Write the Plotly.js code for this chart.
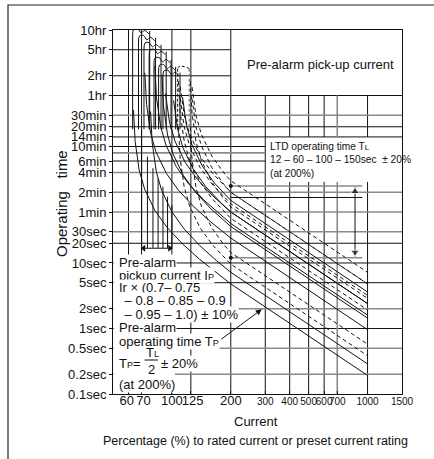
<!DOCTYPE html>
<html><head><meta charset="utf-8">
<script src="https://cdn.plot.ly/plotly-3.0.1.min.js"></script>
<style>html,body{margin:0;padding:0;background:#fff}</style>
</head><body><div id="chart" style="width:434px;height:459px"></div>
<script>
// ---- axes ----
const xTicks = [60,70,100,125,200,300,400,500,600,700,1000,1500];
const xTickText = ["60","70","100","125","200","300","400","500","600","700","1000","1500"];
const yTicks = [36000,18000,7200,3600,1800,1200,840,600,360,240,120,60,30,20,10,5,2,1,0.5,0.2,0.1];
const yTickText = ["10hr","5hr","2hr","1hr","30min","20min","14min","10min","6min","4min","2min","1min","30sec","20sec","10sec","5sec","2sec","1sec","0.5sec","0.2sec","0.1sec"];

// ---- pre-alarm operating time curves (solid), current % / time s ----
const tp12LoI = [63.6,64.9,68.0,72.5,81.9,94.5,113.4,138.6,200,1000];
const tp12LoT = [2168,715,262,135,63.1,34.9,19.5,11.35,4.8,0.192];
const tp12HiI = [77.8,79.3,83.2,88.6,100.1,115.5,138.6,169.4,200,1000];
const tp12HiT = [2059,680,249,128,60.0,33.1,18.5,10.8,7.2,0.288];
const tp60LoI = [72.7,74.2,77.8,82.8,93.6,108,129.6,158.4,200,1000];
const tp60LoT = [8020,2647,969,500,234,129,72.0,42.0,24,0.96];
const tp60HiI = [88.9,90.6,95.0,101.2,114.4,132,158.4,200,1000];
const tp60HiT = [7458,2461,901,465,217,120,66.9,36,1.44];
const tp100LoI = [81.8,83.4,87.5,93.2,105.3,121.5,145.8,178.2,200,1000];
const tp100LoT = [10144,3348,1225,632,296,163,91.0,53.1,40,1.6];
const tp100HiI = [102,106.9,113.9,128.7,148.5,178.2,200,1000];
const tp100HiT = [3036,1111,573,268,148,82.5,60,2.4];
const tp150LoI = [92.7,97.2,103.5,117,135,162,200,1000];
const tp150LoT = [3880,1420,733,342,189,105.5,60,2.4];
const tp150HiI = [113.3,118.8,126.5,143,165,200,1000];
const tp150HiT = [3407,1247,644,301,166,90,3.6];

// ---- LTD operating time curves (dashed) ----
const tl12LoI = [108.1,110.2,115.6,123.1,139.1,160.5,200,1000];
const tl12LoT = [1191,393,144,74.2,34.7,19.15,9.6,0.384];
const tl12HiI = [124.2,126.7,132.8,141.5,159.9,184.5,200,1000];
const tl12HiT = [1178,389,142,73.4,34.3,18.9,14.4,0.576];
const tl60LoI = [108.1,110.2,115.6,123.1,139.1,160.5,200,1000];
const tl60LoT = [5955,1965,719,371,173,95.8,48,1.92];
const tl60HiI = [124.2,126.7,132.8,141.5,159.9,184.5,200,1000];
const tl60HiT = [5890,1944,712,367,172,94.7,72,2.88];
const tl100LoI = [110.2,115.6,123.1,139.1,160.5,200,1000];
const tl100LoT = [3276,1199,619,289,160,80,3.2];
const tl100HiI = [126.7,132.8,141.5,159.9,184.5,200,1000];
const tl100HiT = [3240,1186,612,286,158,120,4.8];
const tl150LoI = [110.2,115.6,123.1,139.1,160.5,200,1000];
const tl150LoT = [4915,1799,928,434,239,120,4.8];
const tl150HiI = [126.7,132.8,141.5,159.9,184.5,200,1000];
const tl150HiT = [4859,1778,918,429,237,180,7.2];

// ---- pickup settings ----
const bandPct = [70,75,80,85,90,95,100];          // Ir x 0.7 ... 1.0
const bandTol = [0.9,1.1];                         // +-10%
const bandTopT = [29000,22800,17800,14000,10500,8200,6700];
const bandBottomT = 1100;
const nomTopT = [1100,420,280,196,146,103,77];
const pickupArrowT = 16.8;
const ltdPickup = [107,123];
const ltdPickupTopT = 9490;
const ltdPickupBottomT = [1200,1180];
const ltdRange = [12,100,150];                     // sec at 200%
const ltdRefI = [200,940];
const ltdArrowI = 863;

// ---- grid ----
const hGrid = [
 [18000,50,200,'k'],[7200,50,200,'k'],[3600,50,1500,'k'],[1800,50,1500,'g'],[1200,50,1500,'k'],[840,50,1500,'k'],
 [600,50,300,'k'],[480,50,300,'g'],[360,50,300,'k'],[240,50,300,'g'],
 [120,50,1500,'g'],[60,50,1500,'g'],[30,50,1500,'g'],[20,50,1500,'k'],[10,50,1500,'k'],[5,50,1500,'k'],
 [2,50,1500,'g'],[1,50,1500,'k'],[0.5,50,1500,'g'],[0.2,50,1500,'g']
];
const vGrid = [
 [60,[[0.1,36000]],'k'],[70,[[0.1,36000]],'k'],[100,[[0.1,36000]],'k'],[125,[[0.1,36000]],'k'],[200,[[0.1,36000]],'k'],
 [300,[[0.1,3600]],'k'],
 [400,[[0.1,172],[840,3600]],'k'],[500,[[0.1,172],[840,3600]],'k'],[600,[[0.1,172],[840,3600]],'k'],
 [700,[[0.1,172],[840,3600]],'g'],[1000,[[0.1,172],[840,3600]],'k']
];

const BLACK = '#111', GRAY = '#8a8a8a';
const traces = [];
function addLine(x, y, color, width, dash, shape) {
  traces.push({type:'scatter', mode:'lines', x:x, y:y, hoverinfo:'skip', showlegend:false,
    line:{color:color, width:width, dash:dash||'solid', shape:shape||'linear'}});
}
// grid
['k','g'].forEach(tone => {
  const xs = [], ys = [];
  hGrid.filter(g => g[3] === tone).forEach(g => { xs.push(g[1], g[2], null); ys.push(g[0], g[0], null); });
  vGrid.filter(g => g[2] === tone).forEach(g => g[1].forEach(s => { xs.push(g[0], g[0], null); ys.push(s[0], s[1], null); }));
  addLine(xs, ys, tone === 'k' ? BLACK : GRAY, tone === 'k' ? 1 : 1.6);
});
// LTD reference lines at 200%
addLine(ltdRefI, [ltdRange[2], ltdRange[2]], GRAY, 1.6);
addLine(ltdRefI, [ltdRange[1], ltdRange[1]], BLACK, 1);
addLine(ltdRefI, [ltdRange[0], ltdRange[0]], GRAY, 1.6);
traces.push({type:'scatter', mode:'markers', x:[200,200], y:[ltdRange[2], ltdRange[0]], hoverinfo:'skip', showlegend:false,
  marker:{color:BLACK, size:4}});
addLine([ltdArrowI, ltdArrowI], [ltdRange[2]*0.95, ltdRange[0]*1.05], BLACK, 1);
traces.push({type:'scatter', mode:'markers', x:[ltdArrowI, ltdArrowI], y:[ltdRange[2]*0.82, ltdRange[0]*1.22], hoverinfo:'skip',
  showlegend:false, marker:{color:BLACK, size:[8,8], symbol:['triangle-up','triangle-down']}});

// pickup bands: verticals with break marks at top
bandPct.forEach((p, i) => {
  const lo = p*bandTol[0], hi = p*bandTol[1], T = bandTopT[i];
  const f = k => lo*Math.pow(hi/lo, k);
  addLine([lo, lo], [bandBottomT, T], BLACK, 1);
  addLine([lo, f(0.06), f(0.3), f(0.5), f(0.7), f(0.95)], [T, T*1.28, T*1.3, T*1.12, T*1.22, T*1.08], BLACK, 1, 'solid', 'spline');
  addLine([hi, hi], [T*1.2, bandBottomT], BLACK, 1);
  addLine([p, p], [nomTopT[i], pickupArrowT], BLACK, 1);
});
addLine([bandPct[0]*1.01, bandPct[6]*0.99], [pickupArrowT, pickupArrowT], BLACK, 1);
traces.push({type:'scatter', mode:'markers', x:[bandPct[0]*1.025, bandPct[6]*0.975], y:[pickupArrowT, pickupArrowT], hoverinfo:'skip',
  showlegend:false, marker:{color:BLACK, size:6, symbol:['triangle-left','triangle-right']}});

// LTD pickup band (dashed)
addLine([ltdPickup[0], ltdPickup[0]], [ltdPickupBottomT[0], ltdPickupTopT], BLACK, 1, '3px,2px');
addLine([ltdPickup[0], ltdPickup[0]*1.03, ltdPickup[1]*0.97, ltdPickup[1]], [ltdPickupTopT, ltdPickupTopT*1.08, ltdPickupTopT*1.02, ltdPickupTopT*0.97], BLACK, 1, '3px,2px');
addLine([ltdPickup[1], ltdPickup[1]], [ltdPickupTopT*0.97, ltdPickupBottomT[1]], GRAY, 1.8, '3px,2px');

// curves
[[tp12LoI,tp12LoT],[tp12HiI,tp12HiT],[tp60LoI,tp60LoT],[tp60HiI,tp60HiT],[tp100LoI,tp100LoT],[tp100HiI,tp100HiT],[tp150LoI,tp150LoT],[tp150HiI,tp150HiT]]
  .forEach(c => addLine(c[0], c[1], BLACK, 1));
[[tl12LoI,tl12LoT],[tl12HiI,tl12HiT],[tl60LoI,tl60LoT],[tl60HiI,tl60HiT],[tl100LoI,tl100LoT],[tl100HiI,tl100HiT],[tl150LoI,tl150LoT],[tl150HiI,tl150HiT]]
  .forEach(c => addLine(c[0], c[1], BLACK, 1, '4px,3px'));

// ---- layout ----
const PX = X => (X-113)/289, PY = Y => (394-Y)/364;
const F = 'Liberation Sans, Arial, sans-serif';
const NB = '\u00a0';
const sm = (s, z) => '<span style="font-size:' + (z||9) + 'px">' + s + '</span>';
function txt(text, X, Y, opts) {
  return Object.assign({xref:'paper', yref:'paper', x:PX(X), y:PY(Y), text:text, showarrow:false,
    xanchor:'left', yanchor:'middle', font:{family:F, size:13, color:'#111'}}, opts||{});
}
const leftBg = {bgcolor:'#fff', borderpad:0};
const ltdFont = {font:{family:F, size:10.2, color:'#111'}};
const annotations = [
  txt('Pre-alarm pick-up current', 320, 64, {xanchor:'center'}),
  txt('LTD operating time T' + sm('L', 8), 268, 146, ltdFont),
  txt('12 – 60 – 100 – 150sec  ± 20%', 268, 160, ltdFont),
  txt('(at 200%)', 268, 173.5, ltdFont),
  txt('Pre-alarm', 118, 262, leftBg),
  txt('pickup current I' + sm('P'), 118, 275, leftBg),
  txt('Ir × (0.7– 0.75', 118, 287.5, leftBg),
  txt(' – 0.8 – 0.85 – 0.9', 120, 300.5, leftBg),
  txt(' – 0.95 – 1.0) ± 10%', 120, 314, leftBg),
  txt('Pre-alarm', 118, 327.5, leftBg),
  txt('operating time T' + sm('P'), 118, 341, leftBg),
  txt('T' + sm('P') + '=', 118, 363, leftBg),
  txt('T' + sm('L'), 144, 352.5),
  txt('2', 151, 369.5, {xanchor:'center'}),
  txt('± 20%', 160, 363, leftBg),
  txt('(at 200%)', 118, 384, leftBg),
  {xref:'paper', yref:'paper', x:PX(158), y:PY(360), text:'', showarrow:true, ax:-15, ay:0,
   arrowhead:0, arrowwidth:1, arrowcolor:'#111'},
  {x:Math.log10(288), y:Math.log10(1.96), xref:'x', yref:'y', text:'', showarrow:true, ax:-42, ay:31,
   arrowhead:2, arrowsize:1.2, arrowwidth:1, arrowcolor:'#111'},
  txt('Operating' + NB + NB + NB + 'time', 61, 204, {xanchor:'center', textangle:-90, font:{family:F, size:15, color:'#111'}}),
  txt('Current', 256, 421.5, {xanchor:'center'}),
  txt('Percentage (%) to rated current or preset current rating', 255, 441, {xanchor:'center', font:{family:F, size:12.5, color:'#111'}})
];
const shapes = [
  {type:'rect', xref:'paper', yref:'paper', x0:PX(8), x1:PX(450), y0:PY(480), y1:PY(5), line:{color:'#222', width:1.2}, layer:'below'},
  // blank area behind the lower-left notes
  {type:'rect', xref:'paper', yref:'paper', x0:PX(113.6), x1:PX(175), y0:PY(390), y1:PY(255), fillcolor:'#fff', line:{width:0}, layer:'above'}
];
const xText = xTickText.map(s => Number(s) >= 300 ? '<span style="font-size:10px">' + s + '</span>' : s);
xText[0] = '60' + NB; xText[1] = NB + '70'; xText[3] = NB + '125';
const layout = {
  width:434, height:459, margin:{l:113, r:32, t:30, b:65}, paper_bgcolor:'#fff', plot_bgcolor:'#fff',
  showlegend:false, font:{family:F, size:13, color:'#111'},
  xaxis:{type:'log', range:[Math.log10(50), Math.log10(1500)], tickvals:xTicks, ticktext:xText, tickangle:0, showgrid:false, zeroline:false,
    showline:true, mirror:true, linecolor:'#111', linewidth:1, ticks:'inside', ticklen:3, tickcolor:'#111', ticklabelstandoff:-6,
    tickfont:{family:F, size:13, color:'#111'}},
  yaxis:{type:'log', range:[-1, Math.log10(36000)], tickvals:yTicks, ticktext:yTickText, showgrid:false, zeroline:false,
    showline:true, mirror:true, linecolor:'#111', linewidth:1, ticks:'outside', ticklen:3, tickcolor:'#111',
    tickfont:{family:F, size:13, color:'#111'}},
  annotations:annotations, shapes:shapes
};
Plotly.newPlot('chart', traces, layout, {staticPlot:true, displayModeBar:false});
</script></body></html>
